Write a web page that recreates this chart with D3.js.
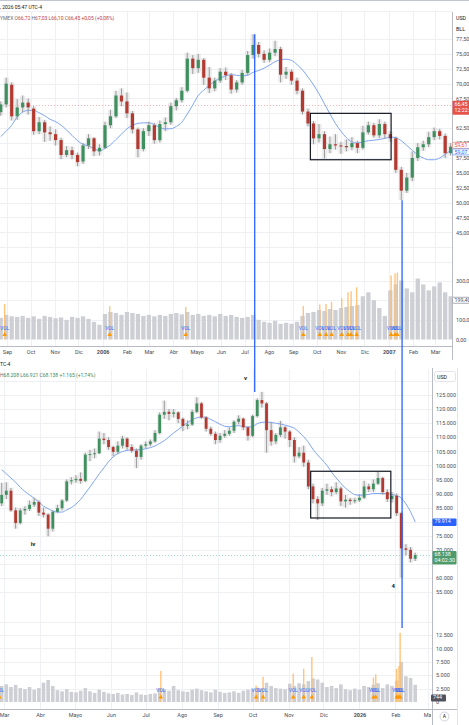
<!DOCTYPE html>
<html>
<head>
<meta charset="utf-8">
<script src="https://cdn.jsdelivr.net/npm/d3@7"></script>
<style>
  html, body { margin: 0; padding: 0; background: #fff; }
  svg { display: block; font-family: Roboto, "DejaVu Sans", sans-serif; }
</style>
</head>
<body>
<svg id="chart" width="469" height="725"></svg>
<script>
// ---- top chart: crude oil, weekly candles Aug 2005 - Mar 2007 ----
var topStart = new Date(2005, 7, 24);
var topOpen = [65.2,66.5,69.8,64.5,66.0,66.8,65.8,62.0,63.5,61.8, 61.5,60.5,58.0,58.8,58.0,56.9,59.6,60.8,58.6,59.2,
  63.0,64.5,68.0,67.0,65.0,62.3,59.0,62.0,63.0,60.5, 63.2,63.5,66.2,67.2,68.8,74.2,72.6,74.0,71.0,69.2,
  70.5,72.0,71.4,69.0,70.2,71.8,74.8,76.5,75.0,74.0, 75.2,75.8,71.5,72.0,70.5,68.8,65.3,63.3,60.8,61.5,
  59.0,59.8,59.6,59.5,59.3,60.0,59.2,61.8,63.0,61.3, 63.2,61.5,60.8,55.5,52.0,54.2,57.5,59.3,59.8,61.0,
  62.0,61.2,58.3];
var topHigh = [67.0,71.0,70.2,67.4,68.0,67.5,66.2,64.4,63.9,62.8, 62.3,60.9,59.5,59.4,58.4,60.0,61.5,61.0,59.8,63.6,
  65.6,68.8,69.2,68.5,65.4,62.6,62.5,63.6,63.4,63.8, 64.3,66.8,67.6,69.4,75.2,74.8,75.0,74.3,72.8,71.0,
  72.6,72.7,71.8,70.6,72.3,75.5,78.3,77.0,75.6,75.9, 77.2,76.2,72.8,72.4,71.0,69.2,65.8,63.7,63.2,62.0,
  61.1,61.5,60.2,60.6,61.0,60.4,62.9,63.6,63.4,64.0, 63.6,62.0,61.1,56.0,55.0,58.6,60.0,60.4,61.9,62.6,
  62.4,61.6,60.0];
var topLow = [64.6,66.0,63.8,63.9,65.2,64.8,61.4,61.5,60.2,60.4, 59.6,57.3,57.6,57.3,56.1,56.5,59.0,57.8,57.9,59.0,
  62.5,64.2,66.2,64.2,61.6,57.6,58.6,61.2,59.9,60.1, 62.0,63.1,65.5,66.8,68.5,71.6,71.8,69.8,68.4,68.7,
  70.1,70.6,68.3,68.5,69.8,71.4,74.2,74.4,73.5,73.6, 74.6,70.2,70.8,69.8,68.2,64.8,62.8,59.8,60.1,57.4,
  58.3,58.9,58.2,58.6,58.8,58.3,58.9,61.4,60.9,60.8, 60.8,60.2,55.0,50.4,51.6,53.6,57.0,58.7,59.3,60.5,
  60.6,57.5,57.9];
var topClose = [66.5,70.0,64.5,66.0,66.8,66.0,62.0,63.5,61.8,61.5, 60.5,58.0,58.8,58.0,56.8,59.6,60.8,58.6,59.2,63.0,
  64.5,68.0,67.0,65.0,62.3,59.0,62.0,63.0,60.5,63.2, 63.5,66.2,67.2,68.8,74.2,72.6,74.0,71.0,69.2,70.5,
  72.0,71.4,69.0,70.2,71.8,74.8,76.5,75.0,74.0,75.2, 75.8,71.5,72.0,70.5,68.8,65.3,63.3,60.8,61.5,59.0,
  59.8,59.6,59.5,59.3,60.0,59.2,61.8,63.0,61.3,63.2, 61.5,60.8,55.5,52.0,54.2,57.5,59.3,59.8,61.0,62.0,
  61.2,58.3,59.4];
var topMA = [61.1,62.0,63.0,64.4,65.2,65.5,65.5,65.1,64.6,64.0, 63.6,63.0,62.2,61.3,60.4,59.8,59.5,59.1,58.7,59.1,
  59.7,60.6,61.5,62.4,63.0,63.3,63.4,63.4,63.1,62.6, 62.4,62.4,62.8,63.5,64.9,66.4,68.0,68.9,69.7,70.4,
  70.9,71.3,71.5,71.4,71.3,71.4,71.9,72.2,72.6,73.1, 73.7,74.0,74.1,73.9,73.2,72.3,71.1,69.8,68.3,66.6,
  64.9,63.3,62.0,60.9,60.2,60.0,60.2,60.4,60.5,60.6, 60.8,61.0,60.9,60.4,59.6,58.8,58.0,57.5,57.2,57.2,
  57.5,58.1,58.8];
var topVol = [110,125,118,115,120,110,118,105,120,115, 108,112,100,115,110,118,105,90,75,130,
  140,135,125,140,135,130,120,125,118,125, 120,130,135,128,140,125,130,120,125,118,
  130,120,125,115,110,115,125,100,90,85, 95,80,85,80,90,120,135,140,150,145,
  155,150,160,165,170,175,220,240,200,160, 120,250,280,300,260,240,310,280,250,270,
  290,240,220];
var topSpikeDates = ["2005-08-29","2006-01-10","2006-04-17","2006-09-14","2006-10-05","2006-10-13","2006-10-20",
  "2006-11-02","2006-11-10","2006-11-14","2006-11-21","2007-01-04","2007-01-09","2007-01-12"];
var topSpikeVol = [180,170,165,170,178,180,190,210,240,245,265,325,335,340];
var topMonths = ["Sep","Oct","Nov","Dic","2006","Feb","Mar","Abr","Mayo","Jun","Jul","Ago","Sep","Oct","Nov","Dic","2007","Feb","Mar"];
var topPriceTicks = [45,47.5,50,52.5,55,57.5,60,62.5,67.5,70,72.5,75,77.5];
var topVolTicks = [0,100,300];

// ---- bottom chart: bitcoin, 4-day candles Feb 2025 - Feb 2026 (thousands USD) ----
var botStart = new Date(2025, 1, 27);
var botOpen = [86.5,89.5,91.0,84.0,79.5,84.0,84.5,86.0,87.0,83.2, 82.5,77.5,83.5,84.8,87.5,94.3,94.7,95.2,94.5,103.8,
  104.0,104.3,109.5,109.0,106.5,104.8,107.0,109.5,106.5,105.2, 103.0,107.0,107.5,108.5,111.5,118.0,119.0,118.3,118.8,116.5,
  114.0,114.5,119.0,122.0,117.0,113.0,111.2,109.0,110.5,111.2, 112.3,115.5,116.6,113.5,110.5,117.5,123.2,122.0,112.5,108.5,
  110.8,113.5,112.0,109.0,103.2,104.5,101.0,92.5,88.0,86.5, 91.0,91.5,90.5,91.8,87.2,87.8,87.3,87.6,88.5,92.5,
  91.5,93.5,95.5,90.5,88.0,89.2,83.0,70.5,70.0,66.8];
var botHigh = [93.8,94.0,92.0,85.0,84.8,85.5,87.5,88.5,87.6,85.0, 83.0,84.0,86.0,88.0,95.0,95.8,96.5,97.5,104.5,105.5,
  106.0,112.0,111.5,110.0,107.0,108.5,110.5,110.0,107.5,106.0, 107.5,108.5,109.2,112.5,118.8,123.0,120.0,120.0,119.2,117.0,
  116.0,119.8,124.2,122.5,117.5,113.8,112.0,111.5,112.5,113.5, 116.0,117.8,117.0,114.0,118.0,123.8,126.1,122.5,115.5,111.5,
  115.8,114.0,112.5,110.0,106.5,107.0,102.0,93.5,89.0,92.0, 93.5,92.5,94.0,92.5,89.5,88.5,88.5,89.8,94.5,93.5,
  95.0,97.8,96.0,91.5,90.5,90.0,83.5,72.0,71.0,69.0];
var botLow = [85.5,88.0,83.5,77.5,79.0,82.5,83.8,85.2,82.0,81.5, 74.8,76.5,83.0,84.0,87.0,93.2,93.8,93.5,94.0,101.5,
  102.5,104.0,107.5,105.5,103.2,104.0,106.0,105.5,104.5,99.0, 102.0,106.0,106.8,108.0,111.0,116.5,116.0,117.0,115.0,112.2,
  112.8,114.0,118.5,116.5,112.0,110.5,107.5,108.0,109.8,110.5, 111.5,114.5,112.5,108.8,110.0,117.0,120.5,104.5,107.0,107.5,
  110.0,109.5,106.5,101.0,102.5,99.5,91.5,86.5,80.6,85.5, 89.5,89.0,89.8,85.5,85.0,86.0,86.5,87.0,88.0,90.5,
  90.5,93.0,89.5,87.0,86.8,82.0,60.1,68.0,65.5,66.0];
var botClose = [89.5,91.0,84.0,79.5,84.0,84.5,86.0,87.0,83.2,82.5, 77.5,83.5,84.8,87.5,94.3,94.7,95.2,94.5,103.8,104.0,
  104.3,109.5,109.0,106.5,104.8,107.0,109.5,106.5,105.2,103.0, 107.0,107.5,108.5,111.5,118.0,119.0,118.3,118.8,116.5,114.0,
  114.5,119.0,122.0,117.0,113.0,111.2,109.0,110.5,111.2,112.3, 115.5,116.6,113.5,110.5,117.5,123.2,122.0,112.5,108.5,110.8,
  113.5,112.0,109.0,103.2,104.5,101.0,92.5,88.0,86.5,91.0, 91.5,90.5,91.8,87.2,87.8,87.3,87.6,88.5,92.5,91.5,
  93.5,95.5,90.5,88.0,89.2,83.0,70.5,70.0,66.8,68.138];
var botMA = [98.5,97.0,95.5,94.0,92.2,90.7,89.5,88.3,87.0,85.5, 84.6,83.8,83.4,83.4,84.2,85.0,86.3,87.9,90.1,92.3,
  94.6,97.0,99.1,101.3,103.0,104.2,104.9,105.3,105.5,105.5, 105.6,105.9,106.3,106.9,107.8,108.8,110.1,111.5,112.7,114.0,
  115.2,116.2,116.9,117.2,117.0,116.3,115.5,114.6,113.9,113.7, 114.0,114.1,113.8,113.6,113.8,114.8,115.3,115.4,115.2,115.0,
  114.7,114.3,113.8,113.2,111.8,110.2,108.2,105.7,103.7,101.9, 100.0,97.6,95.5,93.6,91.9,90.6,89.6,89.4,89.5,89.7,
  90.0,90.0,90.0,89.9,89.7,89.2,88.4,86.3,83.5,79.914];
var botVol = [3000,3300,2800,3200,2600,2400,2800,2300,2600,3600, 4100,3000,2200,2000,2400,1900,1800,2100,2600,2000,
  1700,2300,1900,1600,1500,1700,1400,1500,1300,1800, 1400,1300,1500,1600,2600,2400,2100,3000,2200,2000,
  1900,2300,2500,2200,2000,1800,2300,1900,1700,1800, 2000,1700,2100,2300,2400,2700,2500,3600,3000,2600,
  2500,2400,3400,3000,3500,3300,3900,4400,4200,3600, 2800,3000,2600,3300,2400,2200,2500,2300,3000,2800,
  3200,3500,2600,3300,3000,4000,7500,4800,4500,3200];
var botSpikeDates = ["2025-02-25","2025-07-14","2025-10-04","2025-10-10","2025-11-05","2025-11-14","2025-11-21",
  "2026-01-13","2026-01-15","2026-02-02","2026-02-04","2026-02-05"];
var botSpikeVol = [3500,5800,3100,4700,5300,6200,8400,4600,5200,6200,6700,12900];
var botMonths = ["Mar","Abr","Mayo","Jun","Jul","Ago","Sep","Oct","Nov","Dic","2026","Feb","Mar"];
var botPriceTicks = [55,60,70,75,85,90,95,100,105,110,115,120,125];
var botVolTicks = [0,2500,5000,7500,10000,12500];

// annotations
var linkDates = ["2006-07-14", "2007-01-18"];
var linkTop = [78.3, 50.4];
var linkBotPrice = [126.1, null];
var linkBotVol = [null, 13800];
var topBox = {from: "2006-09-23", to: "2007-01-04", hi: 65.0, lo: 57.2};
var botBox = {from: "2025-11-20", to: "2026-01-28", hi: 97.9, lo: 81.3};
var waveLabels = ["v", "iv", "4"];
var waveDates = ["2025-09-25", "2025-03-26", "2026-01-30"];
var wavePrice = [131, 72, 57.3];

var svg = d3.select("#chart");
var loc = d3.formatLocale({decimal: ",", thousands: ".", grouping: [3], currency: ["", ""]});
var fmt2 = loc.format(",.2f"), fmt0 = loc.format(",.0f");
var parse = d3.timeParse("%Y-%m-%d");

var green = "#3f8f5f", red = "#b23a30", wickCol = "#9c9c9c", gridCol = "#eef0f4",
    axisCol = "#b8bbc4", txtCol = "#4a4e59", blue = "#2962ff", maCol = "#7ea5f2";

var xTop = d3.scaleTime().domain([new Date(2005, 8, 1), new Date(2007, 2, 1)]).range([7, 435]);
var yTop = d3.scaleLinear().domain([45, 77.5]).range([232.3, 39]);
var vTop = d3.scaleLinear().domain([0, 300]).range([339.5, 280.5]);
var xBot = d3.scaleTime().domain([new Date(2025, 2, 1), new Date(2026, 2, 1)]).range([4, 428]);
var yBot = d3.scaleLinear().domain([55, 125]).range([592, 395]);
var vBot = d3.scaleLinear().domain([0, 12500]).range([702, 635]);

var topDates = topClose.map(function(c, i) { return d3.timeDay.offset(topStart, i * 7); });
var botDates = botClose.map(function(c, i) { return d3.timeDay.offset(botStart, i * 4); });

svg.append("rect").attr("width", 469).attr("height", 725).attr("fill", "#fff");

var defs = svg.append("defs");
function clip(id, x, y, w, h) {
  defs.append("clipPath").attr("id", id).append("rect")
    .attr("x", x).attr("y", y).attr("width", w).attr("height", h);
}
clip("cTopP", 0, 12, 452, 256);
clip("cTopV", 0, 268, 452, 78);
clip("cBotP", 0, 384, 432, 221);
clip("cBotV", 0, 605, 432, 104);
clip("cBotX", 0, 705, 431, 20);

function hline(g, y, x1, x2, col, w, dash) {
  g.append("line").attr("x1", x1).attr("x2", x2).attr("y1", y).attr("y2", y)
    .attr("stroke", col).attr("stroke-width", w || 1).attr("stroke-dasharray", dash || null)
    .attr("shape-rendering", "crispEdges");
}
function vline(g, x, y1, y2, col, w) {
  g.append("line").attr("x1", x).attr("x2", x).attr("y1", y1).attr("y2", y2)
    .attr("stroke", col).attr("stroke-width", w || 1).attr("shape-rendering", "crispEdges");
}

function drawGrid(g, xs, monthDates, x1, y1, y2, ys, pVals, vs, vVals) {
  monthDates.forEach(function(d) { vline(g, Math.round(xs(d)) + 0.5, y1, y2, gridCol); });
  pVals.forEach(function(p) { hline(g, Math.round(ys(p)) + 0.5, 0, x1, gridCol); });
  vVals.forEach(function(v) { hline(g, Math.round(vs(v)) + 0.5, 0, x1, gridCol); });
}

function drawVolume(g, dates, vol, xs, vs, bw, spikeDates, spikeVol, baseY) {
  g.selectAll("rect.vb").data(vol).enter().append("rect")
    .attr("x", function(d, i) { return xs(dates[i]) - bw / 2; })
    .attr("width", bw)
    .attr("y", function(d) { return vs(d); })
    .attr("height", function(d) { return vs(0) - vs(d); })
    .attr("fill", "#cdcfd4");
  var sd = spikeDates.map(parse);
  g.selectAll("line.sp").data(spikeVol).enter().append("line")
    .attr("x1", function(d, i) { return xs(sd[i]); })
    .attr("x2", function(d, i) { return xs(sd[i]); })
    .attr("y1", vs(0)).attr("y2", function(d) { return vs(d); })
    .attr("stroke", "#ffbe6e").attr("stroke-width", 1.4).attr("opacity", 0.9);
  g.selectAll("path.tri").data(spikeVol).enter().append("path")
    .attr("d", function(d, i) {
      var x = xs(sd[i]);
      return "M" + (x - 2.3) + "," + (baseY + 1.5) + "L" + (x + 2.3) + "," + (baseY + 1.5) + "L" + x + "," + (baseY - 2.5) + "Z";
    })
    .attr("fill", "#ff9800");
  g.selectAll("text.vl").data(spikeVol).enter().append("text")
    .attr("x", function(d, i) { return xs(sd[i]); })
    .attr("y", baseY - 5)
    .attr("text-anchor", "middle")
    .attr("font-size", 4.8)
    .attr("fill", blue)
    .text("VOL");
}

function drawCandles(g, dates, o, h, l, c, ma, xs, ys, bw) {
  var idx = d3.range(c.length);
  g.selectAll("rect.halo").data(idx).enter().append("rect")
    .attr("x", function(i) { return xs(dates[i]) - bw / 2 - 1; })
    .attr("width", bw + 2)
    .attr("y", function(i) { return ys(h[i]); })
    .attr("height", function(i) { return ys(l[i]) - ys(h[i]); })
    .attr("fill", "#c8c8cc").attr("opacity", 0.35);
  g.append("path").datum(ma)
    .attr("d", d3.line().x(function(d, i) { return xs(dates[i]); }).y(function(d) { return ys(d); }).curve(d3.curveMonotoneX))
    .attr("fill", "none").attr("stroke", maCol).attr("stroke-width", 1);
  g.selectAll("line.wick").data(idx).enter().append("line")
    .attr("x1", function(i) { return xs(dates[i]); })
    .attr("x2", function(i) { return xs(dates[i]); })
    .attr("y1", function(i) { return ys(h[i]); })
    .attr("y2", function(i) { return ys(l[i]); })
    .attr("stroke", wickCol).attr("stroke-width", 1);
  g.selectAll("rect.body").data(idx).enter().append("rect")
    .attr("x", function(i) { return xs(dates[i]) - bw / 2; })
    .attr("width", bw)
    .attr("y", function(i) { return ys(Math.max(o[i], c[i])); })
    .attr("height", function(i) { return Math.max(1, Math.abs(ys(o[i]) - ys(c[i]))); })
    .attr("fill", function(i) { return c[i] >= o[i] ? green : red; });
}

function priceAxis(g, scale, vals, fmt) {
  g.call(d3.axisRight(scale).tickValues(vals).tickFormat(fmt).tickSize(0).tickPadding(4));
  g.select(".domain").remove();
  g.attr("font-size", 5.5).attr("font-family", "Roboto, 'DejaVu Sans', sans-serif");
  g.selectAll("text").attr("fill", txtCol);
}

function timeAxis(g, scale, monthDates, labels) {
  g.call(d3.axisBottom(scale).tickValues(monthDates).tickFormat(function(d, i) { return labels[i]; }).tickSize(0).tickPadding(3));
  g.select(".domain").remove();
  g.attr("font-size", 5.5).attr("font-family", "Roboto, 'DejaVu Sans', sans-serif");
  g.selectAll("text").attr("fill", txtCol)
    .attr("font-weight", function(d, i) { return /^\d{4}$/.test(labels[i]) ? "bold" : "normal"; });
}

function tag(x, y, w, h, fill, stroke, lines, col) {
  svg.append("rect").attr("x", x).attr("y", y).attr("width", w).attr("height", h)
    .attr("rx", 1).attr("fill", fill).attr("stroke", stroke || "none").attr("stroke-width", 0.8);
  lines.forEach(function(t, k) {
    svg.append("text").attr("x", x + 2).attr("y", y + 4.8 + k * 6)
      .attr("font-size", 5.3).attr("fill", col).text(t);
  });
}

function textRow(x, y, parts) {
  var t = svg.append("text").attr("x", x).attr("y", y).attr("font-size", 5);
  parts.forEach(function(p) { t.append("tspan").attr("fill", p[1]).text(p[0]); });
}

// ================= TOP CHART =================
var topMonthDates = d3.timeMonth.range(new Date(2005, 8, 1), new Date(2007, 2, 2));
hline(svg, 0.5, 0, 469, "#c3c6ce");
svg.append("text").attr("x", 0).attr("y", 8.5).attr("font-size", 5).attr("fill", "#131722").text(", 2026 05:47 UTC-4");
hline(svg, 11.5, 0, 452, gridCol);

var gTopGrid = svg.append("g");
drawGrid(gTopGrid, xTop, topMonthDates, 452, 12, 346, yTop, d3.range(40, 78, 2.5), vTop, [100, 200, 300]);

hline(svg, Math.round(yTop(66.45)) + 0.5, 0, 452, "rgba(242,54,69,0.4)", 1, "1,2");

var gTopV = svg.append("g").attr("clip-path", "url(#cTopV)");
drawVolume(gTopV, topDates, topVol, xTop, vTop, 4.3, topSpikeDates, topSpikeVol, 334.5);

var gTopP = svg.append("g").attr("clip-path", "url(#cTopP)");
drawCandles(gTopP, topDates, topOpen, topHigh, topLow, topClose, topMA, xTop, yTop, 3.2);

svg.append("rect")
  .attr("x", xTop(parse(topBox.from))).attr("y", yTop(topBox.hi))
  .attr("width", xTop(parse(topBox.to)) - xTop(parse(topBox.from)))
  .attr("height", yTop(topBox.lo) - yTop(topBox.hi))
  .attr("fill", "none").attr("stroke", "#131722").attr("stroke-width", 1.2);

textRow(0, 19.5, [["YMEX  ", "#6a6d78"], ["O", "#6a6d78"], ["66,72 ", "#c2413a"], ["H", "#6a6d78"], ["67,03 ", "#c2413a"],
  ["L", "#6a6d78"], ["66,10 ", "#c2413a"], ["C", "#6a6d78"], ["66,45 ", "#c2413a"], ["+0,05 (+0,08%)", "#c2413a"]]);

svg.append("rect").attr("x", 452).attr("y", 12).attr("width", 17).attr("height", 350).attr("fill", "#fff");
vline(svg, 452.5, 12, 360, axisCol);
hline(svg, 346.5, 0, 452, axisCol);
priceAxis(svg.append("g").attr("transform", "translate(452,0)"), yTop, topPriceTicks, fmt2);
priceAxis(svg.append("g").attr("transform", "translate(452,0)"), vTop, topVolTicks, fmt2);
svg.append("text").attr("x", 456).attr("y", 20).attr("font-size", 5.3).attr("fill", "#131722").text("USD");
svg.append("text").attr("x", 456).attr("y", 31).attr("font-size", 5.3).attr("fill", "#131722").text("BLL");
tag(452.5, yTop(66.45) - 4, 17, 14, "#e5534b", null, ["66,45", "12:22:22"], "#fff");
tag(452.5, yTop(59.61) - 3, 17, 6, "#fff", "#f08a83", ["59,61"], "#e5534b");
tag(452.5, yTop(59.61) + 3.5, 17, 6, "#fff", "#6f9cf0", ["59,07"], blue);
tag(452.5, vTop(199.4) - 3, 17, 6, "#fff", "#9598a1", ["199,40"], txtCol);
timeAxis(svg.append("g").attr("transform", "translate(0,347)"), xTop, topMonthDates, topMonths);

// ================= BOTTOM CHART =================
var botMonthDates = d3.timeMonth.range(new Date(2025, 2, 1), new Date(2026, 2, 2));
svg.append("text").attr("x", 0).attr("y", 366).attr("font-size", 5).attr("fill", "#131722").text("TC-4");

var gBotGrid = svg.append("g");
drawGrid(gBotGrid, xBot, botMonthDates, 432, 369, 709, yBot, d3.range(55, 131, 5), vBot, [2500, 5000, 7500, 10000, 12500, 15000]);

hline(svg, Math.round(yBot(68.138)) + 0.5, 0, 432, "rgba(8,153,129,0.4)", 1, "1,2");

var gBotV = svg.append("g").attr("clip-path", "url(#cBotV)");
drawVolume(gBotV, botDates, botVol, xBot, vBot, 3.6, botSpikeDates, botSpikeVol, 697);

var gBotP = svg.append("g").attr("clip-path", "url(#cBotP)");
drawCandles(gBotP, botDates, botOpen, botHigh, botLow, botClose, botMA, xBot, yBot, 2.8);

svg.append("rect")
  .attr("x", xBot(parse(botBox.from))).attr("y", yBot(botBox.hi))
  .attr("width", xBot(parse(botBox.to)) - xBot(parse(botBox.from)))
  .attr("height", yBot(botBox.lo) - yBot(botBox.hi))
  .attr("fill", "none").attr("stroke", "#131722").attr("stroke-width", 1.2);

textRow(0, 377, [["H", "#6a6d78"], ["68.208 ", "#3b8a5c"], ["L", "#6a6d78"], ["66.921 ", "#3b8a5c"],
  ["C", "#6a6d78"], ["68.138 ", "#3b8a5c"], ["+1.165 (+1,74%)", "#3b8a5c"]]);

svg.append("rect").attr("x", 432).attr("y", 368).attr("width", 37).attr("height", 357).attr("fill", "#fff");
vline(svg, 432.5, 368, 725, axisCol);
vline(svg, 457.5, 368, 725, "#e0e3eb");
hline(svg, 709.5, 0, 457, axisCol);
var fmtK = function(d) { return fmt0(d * 1000); };
priceAxis(svg.append("g").attr("transform", "translate(432,0)"), yBot, botPriceTicks, fmtK);
priceAxis(svg.append("g").attr("transform", "translate(432,0)"), vBot, botVolTicks, fmt0);
svg.append("rect").attr("x", 434.5).attr("y", 371.5).attr("width", 21).attr("height", 10).attr("rx", 2)
  .attr("fill", "#fff").attr("stroke", "#e0e3eb");
svg.append("text").attr("x", 437).attr("y", 378.5).attr("font-size", 5.3).attr("fill", "#131722").text("USD");
tag(432.5, yBot(79.914) - 3.5, 24, 7.5, blue, null, ["79.914"], "#fff");
tag(432.5, yBot(68.138) - 4, 24, 13.5, "#4e9a6a", null, ["68.138", "04:02:30"], "#fff");
tag(431, vBot(744) - 3.5, 15, 7, "#50535e", null, ["744"], "#fff");
var gBx = svg.append("g").attr("clip-path", "url(#cBotX)");
timeAxis(gBx.append("g").attr("transform", "translate(0,710)"), xBot, botMonthDates, botMonths);
svg.append("circle").attr("cx", 444.5).attr("cy", 716.5).attr("r", 4.5).attr("fill", "#fff").attr("stroke", "#d1d4dc");
svg.append("text").attr("x", 444.5).attr("y", 718.3).attr("text-anchor", "middle").attr("font-size", 5).attr("fill", "#131722").text("A");

// ================= CONNECTORS & LABELS =================
linkDates.forEach(function(ds, k) {
  var x = xTop(parse(ds));
  var y2 = linkBotPrice[k] != null ? yBot(linkBotPrice[k]) : vBot(linkBotVol[k]);
  svg.append("line").attr("x1", x).attr("x2", x).attr("y1", yTop(linkTop[k])).attr("y2", y2)
    .attr("stroke", blue).attr("stroke-width", 1.3);
});

waveLabels.forEach(function(t, k) {
  svg.append("text").attr("x", xBot(parse(waveDates[k]))).attr("y", yBot(wavePrice[k]))
    .attr("dy", "0.35em").attr("text-anchor", "middle")
    .attr("font-size", 6).attr("font-weight", "bold").attr("fill", "#131722").text(t);
});
</script>
</body>
</html>
